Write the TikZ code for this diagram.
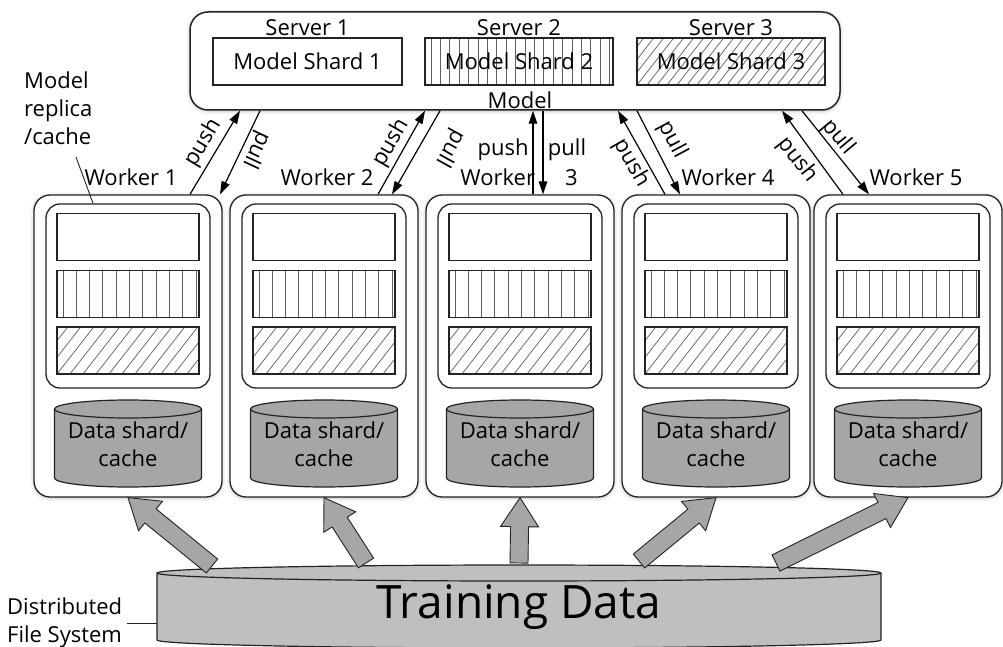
\documentclass[tikz,border=0pt]{standalone}
\usepackage{fontspec}
\setmainfont{Open Sans}
\usepackage{tikz}
\usetikzlibrary{arrows.meta,positioning,calc,shadows.blur}

\definecolor{edgegray} {RGB}{35,35,35}
\definecolor{drumgray} {RGB}{166,166,166}
\definecolor{dfsgray}  {RGB}{191,191,191}
\definecolor{hatchgray}{RGB}{95,95,95}

% cylinder: centre x, half width, top y, bottom y, ellipse radius, fill
\newcommand\drum[6]{%
  \filldraw[draw=edgegray, line width=1.2pt, fill=#6]
    (#1-#2,#3) -- (#1-#2,#4) arc[start angle=180, end angle=0, x radius=#2, y radius=#5]
    -- (#1+#2,#3) arc[start angle=0, end angle=-180, x radius=#2, y radius=#5] -- cycle;
  \draw[edgegray, line width=1.2pt]
    (#1-#2,#3) arc[start angle=180, end angle=0, x radius=#2, y radius=#5];
}

% broad block arrow from #1 to #2
\newcommand\fatarrow[2]{%
  \filldraw[fatarr] let \p1=(#1), \p2=(#2),
      \n1={atan2(\y2-\y1,\x2-\x1)}, \n2={veclen(\x2-\x1,\y2-\y1)} in
    (\p1) ++(\n1+90:9pt) -- ++(\n1:{(\n2-29)*1pt}) -- ++(\n1+90:10pt) -- (\p2)
    -- ($(\p1)+(\n1:{(\n2-29)*1pt})+(\n1-90:19pt)$) -- ++(\n1+90:10pt)
    -- ($(\p1)+(\n1-90:9pt)$) -- cycle;
}

\tikzset{
  % Text
  lbl/.style={font=\fontsize{22}{28}\selectfont, inner sep=1pt, align=center},
  % Soft shadow under the boxes
  soft/.style={blur shadow={shadow xshift=0pt, shadow yshift=-1pt,
                            shadow blur radius=4pt, shadow opacity=25}},
  % Rounded containers
  srvbox/.style={draw=edgegray, line width=1.5pt, rounded corners=18pt, fill=white,
                 minimum width=650pt, minimum height=98pt, soft},
  wbox/.style={draw=edgegray, line width=1.3pt, rounded corners=16pt, fill=white,
               minimum width=188pt, minimum height=302pt, soft},
  rbox/.style={draw=edgegray, line width=1.3pt, rounded corners=14pt, fill=white,
               minimum width=164pt, minimum height=184pt},
  % Shard boxes
  shard/.style={draw=edgegray, line width=1.2pt, minimum width=#1,
                minimum height=47pt, inner sep=0pt, lbl},
  slot/.style={shard=142pt},
  % hatching drawn as real strokes, clipped to the box
  vhatch/.style={path picture={
      \foreach \k in {0,...,20}
        \draw[hatchgray, line width=0.9pt]
          ([xshift=6pt+\k*#1]path picture bounding box.south west)
          -- ++(90:60pt);}},
  dhatch/.style={path picture={
      \foreach \k in {-8,...,26}
        \draw[hatchgray, line width=0.7pt]
          ([xshift=\k*#1]path picture bounding box.south west)
          -- ++(52:90pt);}},
  % Arrows
  pp/.style={-{Triangle[length=13pt,width=8.5pt]}, line width=1.2pt, draw=black},
  lead/.style={draw=edgegray, line width=0.9pt},
  fatarr/.style={draw=edgegray, line width=0.9pt, fill=drumgray},
}

\begin{document}
\begin{tikzpicture}[x=1pt,y=-1pt]
  \useasboundingbox (0,0) rectangle (1003,647);

  %% ── Parameter server ───────────────────────────────────
  \node[srvbox] (model) at (515,61) {};
  \node[shard=189pt] (ms1) at (307.5,61.5) {Model Shard 1};
  \node[shard=188pt, vhatch=9.4pt] (ms2) at (519,61.5) {Model Shard 2};
  \node[shard=188pt, dhatch=10pt] (ms3) at (731,61.5) {Model Shard 3};
  \foreach \s in {1,2,3}
    \node[lbl, above=0pt of ms\s] (srv\s) {Server \s};
  \node[lbl] (mlbl) at (520,100) {Model};

  %% ── Workers ────────────────────────────────────────────
  \foreach \i/\cx in {1/128,2/324,3/520,4/716,5/908}{
    \node[wbox] (w\i) at (\cx,346) {};
    \node[rbox] (r\i) at (\cx,296) {};
    \node[slot] (a\i) at (\cx,237) {};
    \node[slot, vhatch=13.3pt] (b\i) at (\cx,294) {};
    \node[slot, dhatch=13pt] (c\i) at (\cx,350.5) {};
    \drum{\cx}{73.5}{409}{478}{9}{drumgray}
    \node[lbl] (d\i) at (\cx,444) {Data shard/\\cache};
  }

  \node[lbl] (wl1) at (131,177) {Worker 1};
  \node[lbl] (wl2) at (327,177) {Worker 2};
  \node[lbl] (wl3) at (519,177) {Worker\hspace{30pt}3};
  \node[lbl] (wl4) at (728,177) {Worker 4};
  \node[lbl] (wl5) at (916,177) {Worker 5};

  %% ── Push / pull ────────────────────────────────────────
  \draw[pp] ([xshift=62pt]w1.north) -- ([xshift=-275pt]model.south);
  \draw[pp] ([xshift=-255pt]model.south) -- ([xshift=92pt]w1.north);
  \draw[pp] ([xshift=54pt]w2.north) -- ([xshift=-90pt]model.south);
  \draw[pp] ([xshift=-75pt]model.south) -- ([xshift=68pt]w2.north);
  \draw[pp] ([xshift=13pt]w3.north) -- ([xshift=18pt]model.south);
  \draw[pp] ([xshift=28pt]model.south) -- ([xshift=23pt]w3.north);
  \draw[pp] ([xshift=-51pt]w4.north) -- ([xshift=103pt]model.south);
  \draw[pp] ([xshift=122pt]model.south) -- ([xshift=-36pt]w4.north);
  \draw[pp] ([xshift=-65pt]w5.north) -- ([xshift=267pt]model.south);
  \draw[pp] ([xshift=287pt]model.south) -- ([xshift=-39pt]w5.north);

  \node[lbl, rotate=59]   (pu1) at (203,143) {push};
  \node[lbl, rotate=-115] (pl1) at (256,150) {pull};
  \node[lbl, rotate=60]   (pu2) at (391,143) {push};
  \node[lbl, rotate=-119] (pl2) at (450,148) {pull};
  \node[lbl]              (pu3) at (503,150) {push};
  \node[lbl]              (pl3) at (567,150) {pull};
  \node[lbl, rotate=-60]  (pu4) at (631,163) {push};
  \node[lbl, rotate=-62]  (pl4) at (672,140) {pull};
  \node[lbl, rotate=-52]  (pu5) at (797,160) {push};
  \node[lbl, rotate=-50]  (pl5) at (838,137) {pull};

  %% ── Side notes ─────────────────────────────────────────
  \node[lbl, align=left, anchor=west] (rep) at (23,108) {Model\\replica\\/cache};
  \coordinate (repend) at (76,157);
  \draw[lead] (repend) -- ([xshift=-35pt]r1.north);

  %% ── Training data ──────────────────────────────────────
  \drum{519}{362}{573}{640}{8}{dfsgray}
  \coordinate (dfs) at (519,573);
  \coordinate (dfsside) at (157,622);
  \node[lbl, font=\fontsize{46}{50}\selectfont] (td) at (519,607) {Training Data};
  \node[lbl, align=left, anchor=west] (dfslbl) at (6,623) {Distributed\\File System};
  \draw[lead] ([xshift=4pt]dfslbl.east) -- (dfslbl.east -| dfsside);

  \fatarrow{$(dfs)+(-307,-7)$}{w1.south}
  \fatarrow{$(dfs)+(-153,-10)$}{w2.south}
  \fatarrow{$(dfs)+(0,-10)$}{w3.south}
  \fatarrow{$(dfs)+(120,-12)$}{w4.south}
  \fatarrow{$(dfs)+(257,-10)$}{w5.south}

\end{tikzpicture}
\end{document}
